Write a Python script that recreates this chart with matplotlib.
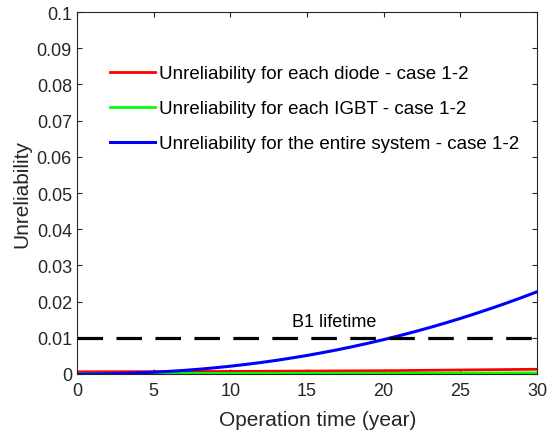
import matplotlib.pyplot as plt
import numpy as np

plt.rcParams['font.family'] = ['Liberation Sans', 'DejaVu Sans']

years = np.arange(0, 31)
# values
system = [0.0, 0.000015, 0.000067, 0.00016, 0.0003, 0.00048, 0.00071, 0.00099,
          0.00132, 0.00171, 0.00214, 0.00263, 0.00316, 0.00376, 0.00441, 0.00511,
          0.00588, 0.00669, 0.00757, 0.0085, 0.00949, 0.01054, 0.01165, 0.01282,
          0.01405, 0.01534, 0.01669, 0.0181, 0.01957, 0.0211, 0.0227]
diode_t = [0, 5, 10, 15, 20, 25, 30]
diode = [0.0006, 0.00065, 0.0007, 0.0008, 0.0009, 0.0011, 0.0013]
igbt_t = [0, 5, 10, 15, 20, 25, 30]
igbt = [0.0001, 0.00012, 0.00015, 0.00018, 0.0002, 0.00024, 0.0003]
b1_level = 0.01

fig = plt.figure(figsize=(5.49, 4.35), dpi=100)
ax = fig.add_axes([0.140, 0.138, 0.838, 0.832])

ax.plot(diode_t, diode, color='red', lw=2, label='Unreliability for each diode - case 1-2')
ax.plot(igbt_t, igbt, color='#00ff00', lw=2, label='Unreliability for each IGBT - case 1-2')
ax.plot(years, system, color='blue', lw=2.2, label='Unreliability for the entire system - case 1-2')
ax.axhline(b1_level, color='black', lw=2.3, linestyle=(0, (8, 4.2)))
ax.text(16.8, 0.0146, 'B1 lifetime', ha='center', va='center', fontsize=13)

ax.set_xlim(0, 30)
ax.set_ylim(0, 0.1)
ax.set_xticks(np.arange(0, 31, 5))
ax.set_yticks(np.arange(0, 0.101, 0.01))
ax.set_yticklabels(['0', '0.01', '0.02', '0.03', '0.04', '0.05', '0.06',
                    '0.07', '0.08', '0.09', '0.1'])
ax.tick_params(direction='in', top=True, right=True, labelsize=13, length=3.5,
               colors='#262626', labelcolor='#262626')
ax.tick_params(axis='x', pad=6)
for s in ax.spines.values():
    s.set_color('#262626')
ax.set_xlabel('Operation time (year)', fontsize=15, color='#262626')
ax.xaxis.set_label_coords(0.524, -0.126, transform=ax.transAxes)
ax.xaxis.label.set_va('center')
ax.set_ylabel('Unreliability', fontsize=15, color='#262626', labelpad=4)

ax.legend(loc='upper left', bbox_to_anchor=(0.036, 0.90), frameon=False,
          fontsize=13.5, handlelength=2.4, handletextpad=0.2, labelspacing=0.95)

fig.savefig('out.png', dpi=100)
